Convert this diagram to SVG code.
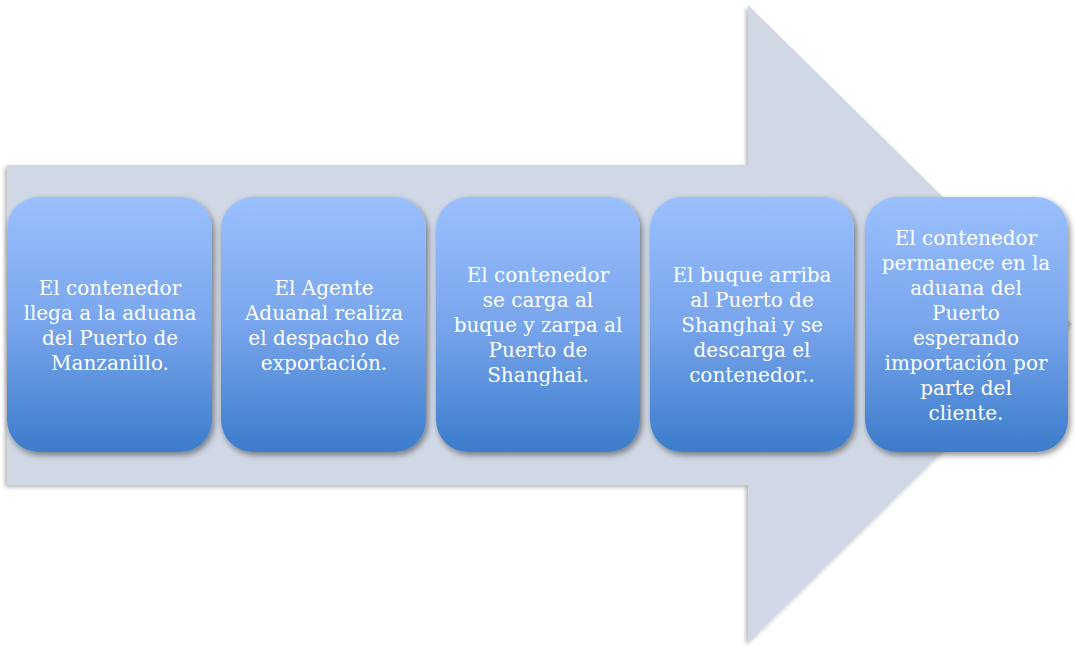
<svg xmlns="http://www.w3.org/2000/svg" width="1075" height="646" viewBox="0 0 1075 646">
<style>
.box{fill:url(#bg);filter:url(#sh);}
.t{font-family:"DejaVu Serif","Liberation Serif",serif;font-size:20px;fill:#ffffff;text-anchor:middle;}
</style>
<defs>
<linearGradient id="bg" x1="0" y1="0" x2="0" y2="1">
<stop offset="0" stop-color="#9BC0FF"/>
<stop offset="0.5" stop-color="#78A5EC"/>
<stop offset="1" stop-color="#3C7CCB"/>
</linearGradient>
<filter id="sh" x="-10%" y="-10%" width="130%" height="130%">
<feGaussianBlur in="SourceAlpha" stdDeviation="3"/>
<feOffset dx="2" dy="3" result="b"/>
<feComponentTransfer><feFuncA type="linear" slope="0.45"/></feComponentTransfer>
<feMerge><feMergeNode/><feMergeNode in="SourceGraphic"/></feMerge>
</filter>
<filter id="ash" x="-5%" y="-5%" width="110%" height="110%">
<feGaussianBlur in="SourceAlpha" stdDeviation="2"/>
<feOffset dx="-2" dy="2"/>
<feComponentTransfer><feFuncA type="linear" slope="0.3"/></feComponentTransfer>
<feMerge><feMergeNode/><feMergeNode in="SourceGraphic"/></feMerge>
</filter>
</defs>
<g id="arrow">
<polygon points="7,165 748,165 748,5 1072,324 748,643 748,485 7,485" fill="#D0D8E5" filter="url(#ash)"/>
</g>
<g id="connectors"></g>
<g id="node1">
<rect class="box" x="7" y="197" width="205" height="255" rx="32"/>
<text class="t"><tspan x="110" y="294.5">El contenedor</tspan><tspan x="110" y="319.5">llega a la aduana</tspan><tspan x="110" y="344.5">del Puerto de</tspan><tspan x="110" y="369.5">Manzanillo.</tspan></text>
</g>
<g id="node2">
<rect class="box" x="221" y="197" width="205" height="255" rx="32"/>
<text class="t"><tspan x="324" y="294.5">El Agente</tspan><tspan x="324" y="319.5">Aduanal realiza</tspan><tspan x="324" y="344.5">el despacho de</tspan><tspan x="324" y="369.5">exportación.</tspan></text>
</g>
<g id="node3">
<rect class="box" x="436" y="197" width="204" height="255" rx="32"/>
<text class="t"><tspan x="538" y="282">El contenedor</tspan><tspan x="538" y="307">se carga al</tspan><tspan x="538" y="332">buque y zarpa al</tspan><tspan x="538" y="357">Puerto de</tspan><tspan x="538" y="382">Shanghai.</tspan></text>
</g>
<g id="node4">
<rect class="box" x="650" y="197" width="204" height="255" rx="32"/>
<text class="t"><tspan x="752" y="282">El buque arriba</tspan><tspan x="752" y="307">al Puerto de</tspan><tspan x="752" y="332">Shanghai y se</tspan><tspan x="752" y="357">descarga el</tspan><tspan x="752" y="382">contenedor..</tspan></text>
</g>
<g id="node5">
<rect class="box" x="865" y="197" width="203" height="255" rx="32"/>
<text class="t"><tspan x="966" y="244.5">El contenedor</tspan><tspan x="966" y="269.5">permanece en la</tspan><tspan x="966" y="294.5">aduana del</tspan><tspan x="966" y="319.5">Puerto</tspan><tspan x="966" y="344.5">esperando</tspan><tspan x="966" y="369.5">importación por</tspan><tspan x="966" y="394.5">parte del</tspan><tspan x="966" y="419.5">cliente.</tspan></text>
</g>
</svg>
